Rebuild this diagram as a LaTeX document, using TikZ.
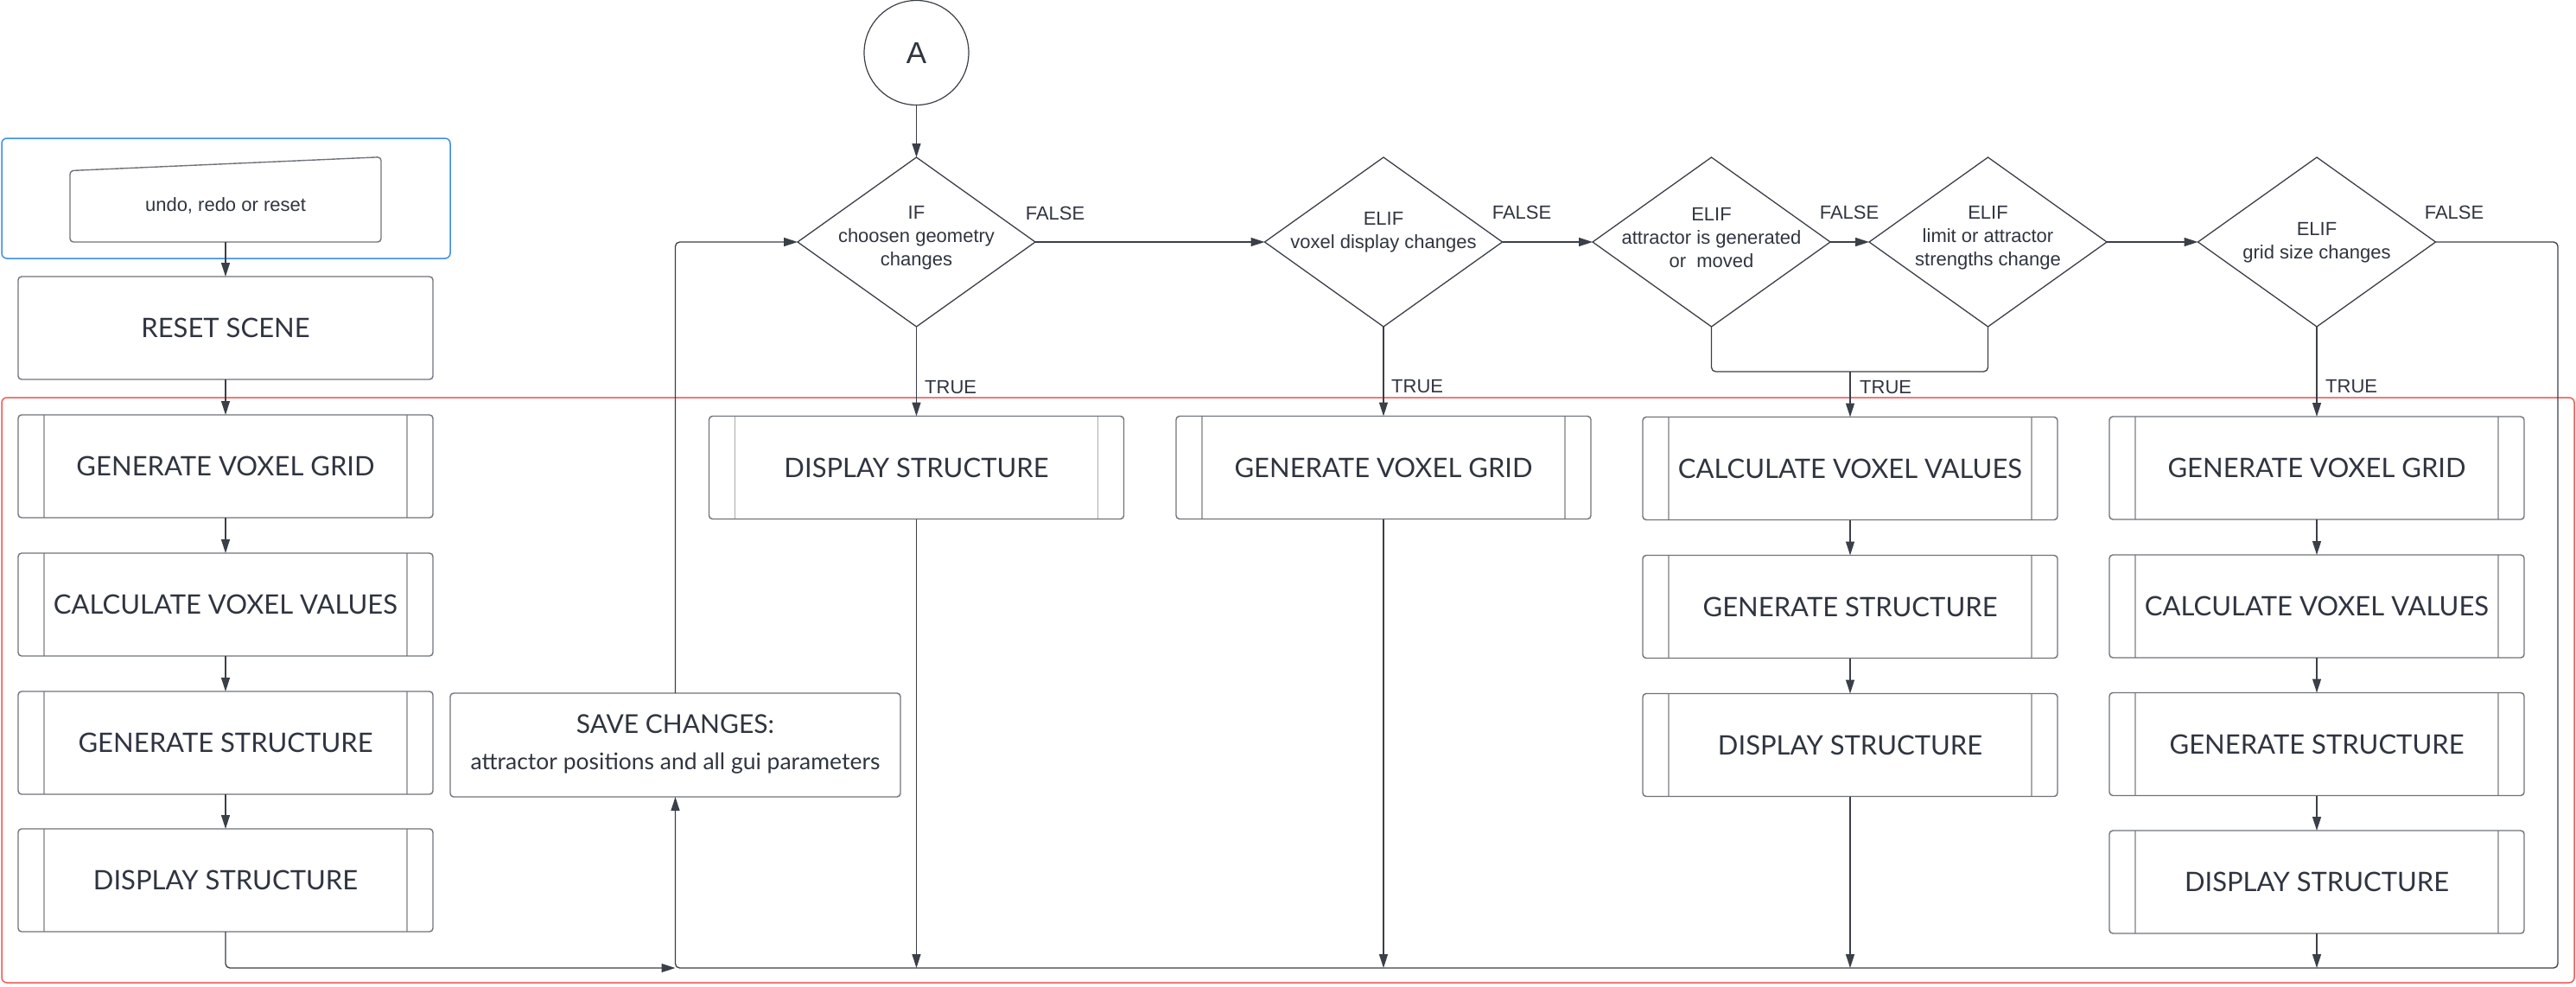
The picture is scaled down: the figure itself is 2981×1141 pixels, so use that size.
\documentclass[tikz,border=0pt]{standalone}
\usepackage{fontspec}
\setmainfont{Liberation Sans}
\newfontfamily\boxfont{Lato}
\usetikzlibrary{shapes.geometric,arrows.meta}
\definecolor{txt}{HTML}{2F3440}
\definecolor{ln}{HTML}{3A3F48}
\definecolor{bx}{HTML}{6F737A}
\definecolor{barc}{HTML}{ABABAB}
\definecolor{blu}{HTML}{3D8EE6}
\definecolor{rd}{HTML}{F05A5A}
\begin{document}
\begin{tikzpicture}[x=1pt,y=-1pt,
  proc/.style={draw=bx, line width=1.4pt, rounded corners=4pt, minimum width=480pt, minimum height=119pt, inner sep=0pt, outer sep=0pt, text=txt, font=\boxfont\fontsize{31}{36}\selectfont,
    path picture={\draw[barc,line width=1.3pt] ([xshift=30pt]path picture bounding box.north west) -- ([xshift=30pt]path picture bounding box.south west) ([xshift=-30pt]path picture bounding box.north east) -- ([xshift=-30pt]path picture bounding box.south east);}},
  plain/.style={draw=bx, line width=1.4pt, rounded corners=4pt, inner sep=0pt, outer sep=0pt, text=txt, align=center},
  dec/.style={diamond, draw=ln, line width=1.3pt, minimum width=275pt, minimum height=196pt, inner sep=0pt, outer sep=0pt},
  dtxt/.style={text=txt, font=\fontsize{22}{27}\selectfont, align=center, inner sep=0pt},
  lbl/.style={text=txt, font=\fontsize{22}{26}\selectfont, inner sep=0pt},
  arr/.style={draw=ln, line width=1.3pt, -{Triangle[length=16pt,width=10pt]}},
  con/.style={draw=ln, line width=1.3pt, rounded corners=5pt},
]
\useasboundingbox (0,0) rectangle (2981,1141);
% containers
\draw[rd, line width=1.5pt, rounded corners=6pt] (2,460) rectangle (2979,1137);
\draw[blu, line width=1.5pt, rounded corners=6pt] (2,160) rectangle (521,299);

% input shape
\draw[bx, line width=1.4pt, rounded corners=4pt] (81,197.5) -- (441,181.7) -- (441,280) -- (81,280) -- cycle;
\node[dtxt, minimum width=360pt, minimum height=84pt] (inp) at (261,238) {undo, redo or reset};

% column 1
\node[plain, minimum width=480pt, minimum height=119pt, font=\boxfont\fontsize{31}{36}\selectfont] (reset) at (261,379.5) {RESET SCENE};
\node[proc] (g1) at (261,539.5) {GENERATE VOXEL GRID};
\node[proc] (c1) at (261,699.5) {CALCULATE VOXEL VALUES};
\node[proc] (s1) at (261,859.5) {GENERATE STRUCTURE};
\node[proc] (d1) at (261,1018.5) {DISPLAY STRUCTURE};

% save changes
\node[plain, minimum width=521pt, minimum height=120pt] (save) at (781.5,862) {};
\node[text=txt, font=\boxfont\fontsize{30}{36}\selectfont, inner sep=0pt] (savet) at (781.5,838) {SAVE CHANGES:};
\node[text=txt, font=\boxfont\fontsize{26.5}{30}\selectfont, inner sep=0pt] (saves) at (781.5,883) {attractor positions and all gui parameters};

% circle A
\node[circle, draw=ln, line width=1.2pt, minimum size=121pt, inner sep=0pt, text=txt, font=\fontsize{35}{40}\selectfont] (A) at (1060.5,61) {A};

% diamonds
\node[dec] (D1) at (1060.5,280) {};
\node[dec] (D2) at (1601,280) {};
\node[dec] (D3) at (1980.5,280) {};
\node[dec] (D4) at (2300.5,280) {};
\node[dec] (D5) at (2681,280) {};
\node[dtxt] (T1) at (1060.5,275) {IF\\choosen geometry\\changes};
\node[dtxt] (T2) at (1601,268.5) {ELIF\\voxel display changes};
\node[dtxt] (T3) at (1980.5,275) {ELIF\\attractor is generated\\or\ \ moved};
\node[dtxt] (T4) at (2300.5,275.5) {ELIF\\limit or attractor\\strengths change};
\node[dtxt] (T5) at (2681,280.5) {ELIF\\grid size changes};

% row boxes
\node[proc] (disp2) at (1060.5,541) {DISPLAY STRUCTURE};
\node[proc] (gvg3) at (1601,541) {GENERATE VOXEL GRID};
\node[proc] (cvv4) at (2141,542) {CALCULATE VOXEL VALUES};
\node[proc] (gs4) at (2141,702) {GENERATE STRUCTURE};
\node[proc] (ds4) at (2141,862) {DISPLAY STRUCTURE};
\node[proc] (gvg5) at (2681,541.5) {GENERATE VOXEL GRID};
\node[proc] (cvv5) at (2681,701.5) {CALCULATE VOXEL VALUES};
\node[proc] (gs5) at (2681,861) {GENERATE STRUCTURE};
\node[proc] (ds5) at (2681,1020.5) {DISPLAY STRUCTURE};

% labels
\node[lbl] (F1) at (1221,247) {FALSE};
\node[lbl] (F2) at (1761,246) {FALSE};
\node[lbl] (F3) at (2140,246) {FALSE};
\node[lbl] (F5) at (2840,246) {FALSE};
\node[lbl, anchor=west] (TR1) at (1070,448) {TRUE};
\node[lbl, anchor=west] (TR2) at (1610,447) {TRUE};
\node[lbl, anchor=west] (TR3) at (2152,448) {TRUE};
\node[lbl, anchor=west] (TR5) at (2691,447) {TRUE};

% coordinates
\coordinate (busA) at (781.5,1120);
\coordinate (b2) at (1060.5,1120);
\coordinate (b3) at (1601,1120);
\coordinate (b4) at (2141,1120);
\coordinate (b5) at (2681,1120);
\coordinate (merge) at (2141,430);

% connectors column 1
\draw[arr] (inp.south) -- (reset.north);
\draw[arr] (reset.south) -- (g1.north);
\draw[arr] (g1.south) -- (c1.north);
\draw[arr] (c1.south) -- (s1.north);
\draw[arr] (s1.south) -- (d1.north);
\draw[arr, rounded corners=5pt] (d1.south) |- (busA);

% top flow
\draw[arr] (A.south) -- (D1.north);
\draw[arr] (D1.east) -- (D2.west);
\draw[arr] (D2.east) -- (D3.west);
\draw[arr] (D3.east) -- (D4.west);
\draw[arr] (D4.east) -- (D5.west);
\draw[arr, rounded corners=5pt] (save.north) |- (D1.west);
\draw[arr, rounded corners=5pt] (D5.east) -- (2960,280) -- (2960,1120) -| (save.south);

% true branches
\draw[arr] (D1.south) -- (disp2.north);
\draw[arr] (D2.south) -- (gvg3.north);
\draw[con] (D3.south) |- (merge);
\draw[con] (D4.south) |- (merge);
\draw[arr] (merge) -- (cvv4.north);
\draw[arr] (D5.south) -- (gvg5.north);

% column internals
\draw[arr] (cvv4.south) -- (gs4.north);
\draw[arr] (gs4.south) -- (ds4.north);
\draw[arr] (gvg5.south) -- (cvv5.north);
\draw[arr] (cvv5.south) -- (gs5.north);
\draw[arr] (gs5.south) -- (ds5.north);

% to bus
\draw[arr] (disp2.south) -- (b2);
\draw[arr] (gvg3.south) -- (b3);
\draw[arr] (ds4.south) -- (b4);
\draw[arr] (ds5.south) -- (b5);
\end{tikzpicture}
\end{document}
